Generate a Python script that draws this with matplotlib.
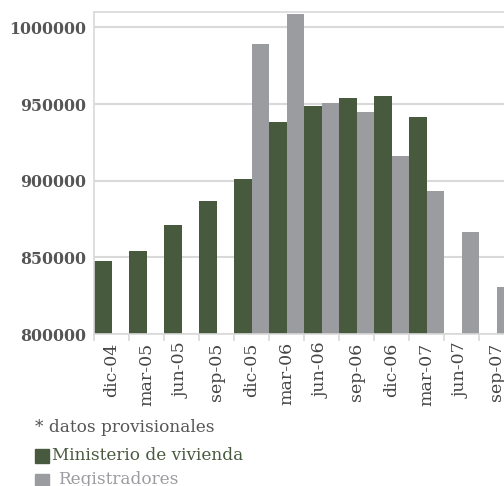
import numpy as np
import matplotlib
matplotlib.use('Agg')
import matplotlib.pyplot as plt
from matplotlib.patches import Rectangle

# quarterly figures
periodos = ['dic-04', 'mar-05', 'jun-05', 'sep-05', 'dic-05', 'mar-06',
            'jun-06', 'sep-06', 'dic-06', 'mar-07', 'jun-07', 'sep-07']
ministerio = [847600, 854000, 871000, 886600, 901000, 938100,
              948500, 953700, 955000, 941400, np.nan, np.nan]
registradores = [np.nan, np.nan, np.nan, np.nan, 988900, 1008500,
                 950500, 944600, 916000, 893200, 866400, 830600]
y_ticks = [800000, 850000, 900000, 950000, 1000000]

verde = '#485a3e'
gris = '#9b9ca0'
texto = '#555555'
linea = '#d9d9d9'

fig = plt.figure(figsize=(5.04, 4.86), dpi=100)
ax = fig.add_axes([94/504, 1-334/486, 420/504, 322/486])

x = np.arange(len(periodos))
ax.bar(x - 0.25, ministerio, width=0.5, color=verde, zorder=2)
ax.bar(x + 0.25, registradores, width=0.5, color=gris, zorder=2)

ax.set_xlim(-0.5, len(periodos) - 0.5)
ax.set_ylim(800000, 1010000)
ax.set_yticks(y_ticks)
ax.set_yticklabels([str(v) for v in y_ticks], family='DejaVu Serif',
                   fontsize=11.3, fontweight='bold', color=texto)
ax.yaxis.grid(True, color=linea, linewidth=1.5, zorder=0)
ax.tick_params(axis='y', length=0, pad=6)

ax.set_xticks(x)
ax.set_xticklabels(periodos, rotation=90, family='DejaVu Serif',
                   fontsize=12.5, color='#444444')
ax.set_xticks(np.arange(len(periodos) + 1) - 0.5, minor=True)
ax.tick_params(axis='x', which='major', length=0, pad=6)
ax.tick_params(axis='x', which='minor', length=5, color=linea, width=1.2)

for s in ['left', 'top', 'bottom']:
    ax.spines[s].set_color(linea)
    ax.spines[s].set_linewidth(1.2)
ax.spines['right'].set_visible(False)

# notes / legend
fig.text(35/504, 1-427/486, '* datos provisionales', family='DejaVu Serif',
         fontsize=12.2, color=texto, va='center')
fig.patches.append(Rectangle((35/504, 1-463/486), 14/504, 14/486,
                             transform=fig.transFigure, color=verde))
fig.text(52/504, 1-455/486, 'Ministerio de vivienda', family='DejaVu Serif',
         fontsize=12.2, color=verde, va='center')
fig.patches.append(Rectangle((35/504, 1-487/486), 14/504, 13/486,
                             transform=fig.transFigure, color=gris))
fig.text(58/504, 1-479/486, 'Registradores', family='DejaVu Serif',
         fontsize=12.2, color=gris, va='center')

fig.savefig('out.png', dpi=100)
